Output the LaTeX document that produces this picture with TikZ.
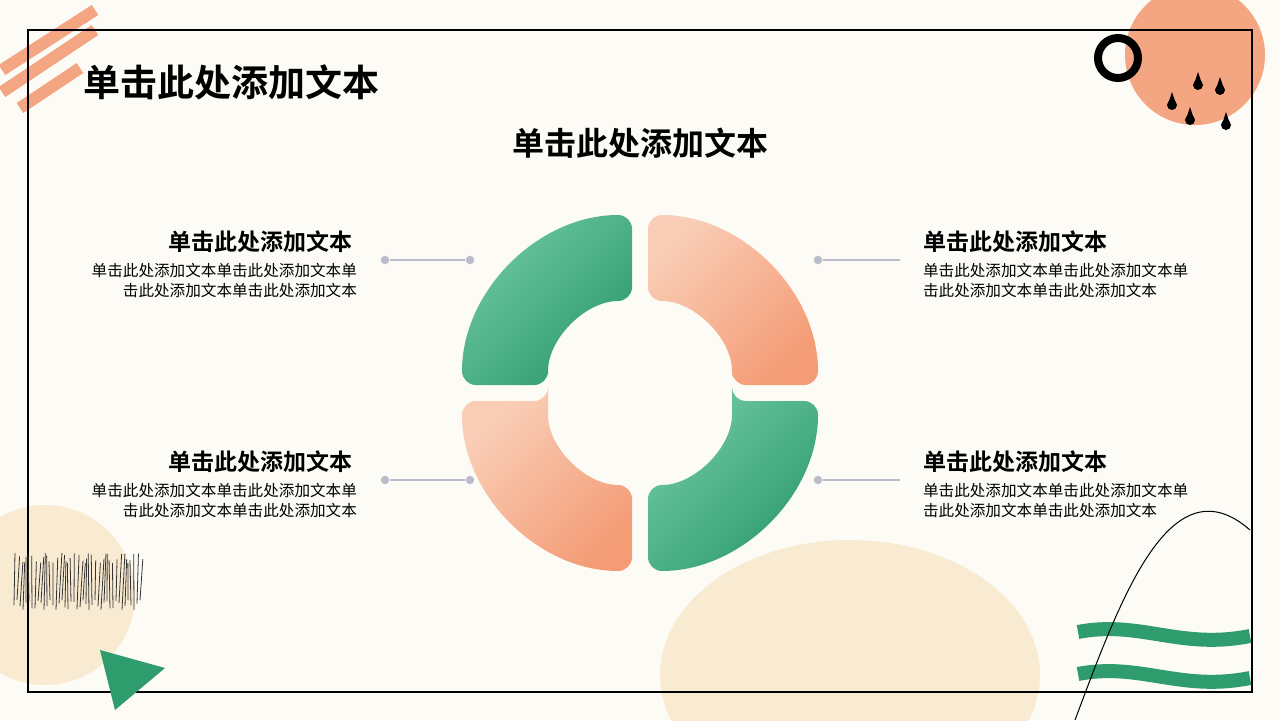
\documentclass[tikz,border=0pt]{standalone}
\usepackage{fontspec}
\setmainfont{Noto Sans CJK SC}[BoldFont={Noto Sans CJK SC Bold}]
\usetikzlibrary{positioning}

\definecolor{paper}{HTML}{FDFBF5}
\definecolor{peach}{HTML}{F4A582}
\definecolor{cream}{HTML}{F9EBD2}
\definecolor{greenA}{HTML}{6CC6A2}
\definecolor{greenB}{HTML}{2E9C6C}
\definecolor{orangeA}{HTML}{F9CDB6}
\definecolor{orangeB}{HTML}{F49C76}
\definecolor{linkgray}{HTML}{B8BCCB}

\tikzset{
    heading/.style = {font=\bfseries\fontsize{11.5}{13}\selectfont},
    bodytext/.style = {font=\fontsize{7.8}{10}\selectfont, align=right},
    linkdot/.style = {circle, fill=linkgray, inner sep=1.5pt},
    link/.style = {linkgray, line width=0.7pt},
    greenq/.style = {rounded corners=7pt, top color=greenA, bottom color=greenB, shading angle=45},
    orangeq/.style = {rounded corners=7pt, top color=orangeA, bottom color=orangeB, shading angle=45},
}

\begin{document}
\begin{tikzpicture}[x=0.5pt, y=0.5pt]
        % Achtergrond
        \fill[paper] (0,0) rectangle (1280,720);
        \useasboundingbox (0,0) rectangle (1280,720);
        \fill[cream] (45,125) circle (90);
        \fill[cream] (850,45) ellipse (190 and 135);
        \fill[peach] (1195,665) circle (70);
        \draw[peach, line width=6pt] (2,628) -- (95,690) (2,650) -- (95,710) (20,612) -- (80,652);
        \draw[line width=4pt] (1118,662) circle (20);
        \foreach \x/\y in {1172/615, 1198/635, 1220/630, 1226/595, 1190/600}{
            \fill (\x,\y) circle (5);
            \fill (\x-4,\y+1) -- (\x,\y+13) -- (\x+4,\y+1) -- cycle;
        }
        \draw[line width=0.6pt] (28,28) rectangle (1252,690);
        \foreach \i in {0,...,42}
            \draw[line width=0.4pt, black!80] ({14+3*\i},{115+5*sin(97*\i)}) -- ({15+3*\i+2*sin(53*\i)},{162+5*cos(71*\i)});
        \fill[greenB] (100,70) -- (165,52) -- (115,10) -- cycle;
        \draw[greenB, line width=7pt] (1078,88) .. controls (1140,100) and (1180,70) .. (1250,84)
            (1078,46) .. controls (1140,58) and (1180,28) .. (1250,42);
        \draw[line width=0.5pt] (1075,0) .. controls (1120,120) and (1170,260) .. (1250,190);

        % Titels
        \node[font=\bfseries\fontsize{18.5}{20}\selectfont, anchor=west] (title) at (76,638) {单击此处添加文本};
        \node[font=\bfseries\fontsize{16}{18}\selectfont] (subtitle) at (640,577) {单击此处添加文本};

        % Ring
        \begin{scope}[shift={(640,327)}]
            \shade[greenq, shift={(-8,8)}]
                (180:84) -- (180:170) arc[start angle=180, end angle=90, radius=170] -- (90:84) arc[start angle=90, end angle=180, radius=84] -- cycle;
            \shade[orangeq, shift={(8,8)}]
                (0:84) -- (0:170) arc[start angle=0, end angle=90, radius=170] -- (90:84) arc[start angle=90, end angle=0, radius=84] -- cycle;
            \shade[orangeq, shift={(-8,-8)}]
                (180:84) -- (180:170) arc[start angle=180, end angle=270, radius=170] -- (270:84) arc[start angle=270, end angle=180, radius=84] -- cycle;
            \shade[greenq, shift={(8,-8)}]
                (0:84) -- (0:170) arc[start angle=0, end angle=-90, radius=170] -- (270:84) arc[start angle=270, end angle=360, radius=84] -- cycle;
        \end{scope}

        % Teksten
        \foreach \n/\y in {a/478, b/258}{
            \node[heading, anchor=east] (head\n L) at (360,\y) {单击此处添加文本};
            \node[bodytext, anchor=north east] (body\n L) at (364,\y-14) {单击此处添加文本单击此处添加文本单\\击此处添加文本单击此处添加文本};
            \node[heading, anchor=west] (head\n R) at (916,\y) {单击此处添加文本};
            \node[bodytext, align=left, anchor=north west] (body\n R) at (916,\y-14) {单击此处添加文本单击此处添加文本单\\击此处添加文本单击此处添加文本};
            \node[linkdot] (dot\n L) at (385,\y-18) {};
            \node[linkdot] (end\n L) at (470,\y-18) {};
            \node[linkdot] (dot\n R) at (818,\y-18) {};
            \node[linkdot, fill=none] (end\n R) at (905,\y-18) {};
            \draw[link] (dot\n L) -- (end\n L);
            \draw[link] (dot\n R) -- (end\n R);
        }
    \end{tikzpicture}
\end{document}
